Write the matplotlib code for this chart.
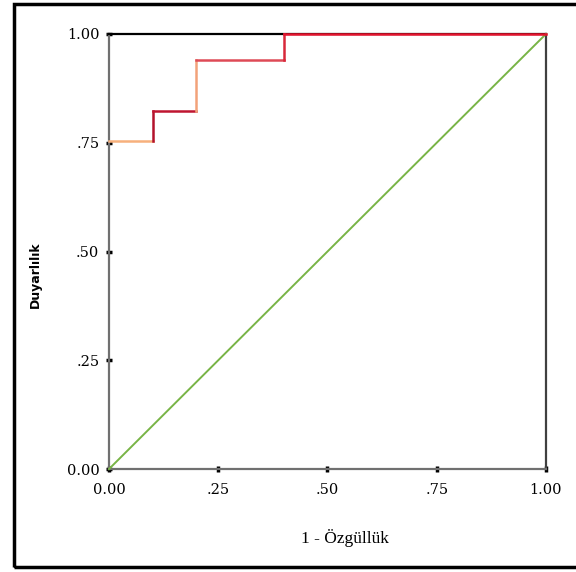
import numpy as np
import matplotlib.pyplot as plt
from matplotlib.patches import Rectangle

# ROC egrisi noktalari (1 - Ozgulluk, Duyarlilik)
fpr = [0.0, 0.1, 0.1, 0.2, 0.2, 0.4, 0.4, 1.0]
tpr = [0.755, 0.755, 0.823, 0.823, 0.94, 0.94, 1.0, 1.0]
seg_colors = ['#f7b07c', '#b3122c', '#bf1530', '#f2a27a', '#de4a56', '#d8283a', '#e4142e']

ref_x = [0.0, 1.0]
ref_y = [0.0, 1.0]

ticks = [0.0, 0.25, 0.5, 0.75, 1.0]
tick_labels = ['0.00', '.25', '.50', '.75', '1.00']

plt.rcParams['font.family'] = ['DejaVu Serif']

fig = plt.figure(figsize=(5.76, 5.72), dpi=100)
ax = fig.add_axes([0.1892, 0.18, 0.7587, 0.7606])

ax.plot(ref_x, ref_y, color='#78b446', linewidth=1.4, clip_on=False, zorder=3)
for i in range(len(fpr) - 1):
    ax.plot(fpr[i:i+2], tpr[i:i+2], color=seg_colors[i], linewidth=1.8,
            clip_on=False, zorder=4, solid_capstyle='projecting')

ax.set_xlim(0, 1)
ax.set_ylim(0, 1)
ax.set_xticks(ticks)
ax.set_xticklabels(tick_labels)
ax.set_yticks(ticks)
ax.set_yticklabels(tick_labels)
ax.tick_params(direction='inout', length=4, width=2.5, color='black',
               labelsize=10.5)
ax.tick_params(axis='y', pad=5)
ax.tick_params(axis='x', pad=8)

ax.spines['left'].set_color('#707070')
ax.spines['bottom'].set_color('#707070')
ax.spines['right'].set_color('#404040')
ax.spines['top'].set_color('black')
for s in ax.spines.values():
    s.set_linewidth(1.6)

fig.text(0.599, 0.06, '1 - Özgüllük', ha='center', va='center', fontsize=12.5,
         family=['Liberation Serif'])
fig.text(0.061, 0.52, 'Duyarlılık', ha='center', va='center', rotation=90,
         fontsize=9, fontweight='bold', family=['DejaVu Sans'])

# cerceve
fig.patches.append(Rectangle((13.5 / 576, 1 - 567 / 572), 1.0, (567 - 4) / 572,
                             transform=fig.transFigure, fill=False,
                             edgecolor='black', linewidth=2.5, clip_on=False))

fig.savefig('out.png', dpi=100)
